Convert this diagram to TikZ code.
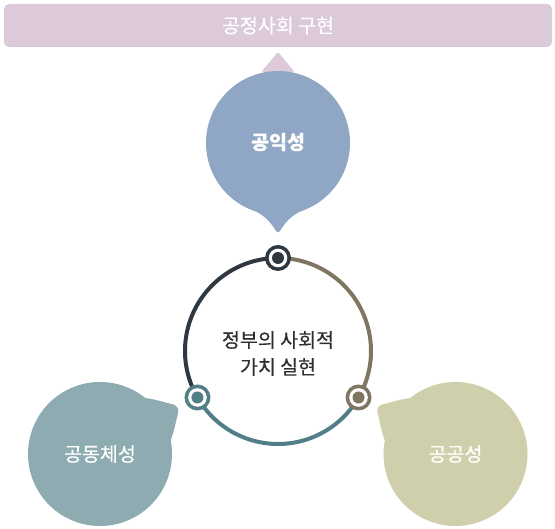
\documentclass[tikz,border=0pt]{standalone}
\usepackage{fontspec}
\setmainfont{Noto Sans CJK KR}[FakeBold=0.5]
\definecolor{bannerc}{HTML}{DCCADB}
\definecolor{bluec}{HTML}{8FA7C5}
\definecolor{tealc}{HTML}{8DABB0}
\definecolor{olivec}{HTML}{CFCFAB}
\definecolor{darkring}{HTML}{2F3841}
\definecolor{tealring}{HTML}{527E88}
\definecolor{khakiring}{HTML}{7E7660}
\definecolor{txtc}{HTML}{332E2E}
\newcommand{\bubtail}{(18:72) .. controls (72,15) and (78,8) .. (87,2.6) .. controls (89.8,1) and (89.8,-1) .. (87,-2.6) .. controls (78,-8) and (72,-15) .. (-18:72) -- cycle}
\newcommand{\sidetail}{(20:72) .. controls (75,19) and (82,11) .. (88,5) .. controls (91,2.5) and (91,-2.5) .. (88,-5) .. controls (82,-11) and (75,-19) .. (-20:72) -- cycle}
\begin{document}
\begin{tikzpicture}[x=1pt,y=1pt,
  lbl/.style={text=white,font=\fontsize{19.5}{22}\selectfont},
  ring/.style={line width=4pt},
  mtext/.style={text=txtc,align=center,font=\fontsize{19.5}{27}\selectfont}]
\useasboundingbox (0,0) rectangle (555,529);
% banner
\fill[bannerc, rounded corners=5pt] (4,482) rectangle (552,525);
\node[lbl] (title) at (278,503.5) {공정사회 구현};
\fill[bannerc, rounded corners=1.5pt] (278,477) -- (294.7,457) -- (261.3,457) -- cycle;
% top bubble
\begin{scope}[shift={(278,386)}, rotate=-90]
  \fill[bluec] (0,0) circle (72pt);
  \fill[bluec] \bubtail;
\end{scope}
\node[lbl, font=\fontsize{19.5}{22}\selectfont\bfseries] (pub) at (278,387) {공익성};
% left bubble
\begin{scope}[shift={(100,75)}, rotate=31]
  \fill[tealc] (0,0) circle (72pt);
  \fill[tealc] \sidetail;
\end{scope}
\node[lbl] (comm) at (100,75) {공동체성};
% right bubble
\begin{scope}[shift={(455.5,75)}, rotate=149]
  \fill[olivec] (0,0) circle (72pt);
  \fill[olivec] \sidetail;
\end{scope}
\node[lbl] (pubc) at (455.5,75) {공공성};
% ring
\coordinate (rc) at (278,178);
\draw[ring, darkring] ([shift={(90:93)}]rc) arc[start angle=90, end angle=210, radius=93pt];
\draw[ring, tealring] ([shift={(210:93)}]rc) arc[start angle=210, end angle=330, radius=93pt];
\draw[ring, khakiring] ([shift={(330:93)}]rc) arc[start angle=330, end angle=450, radius=93pt];
\coordinate (mt) at ([shift={(90:93)}]rc);
\coordinate (ml) at ([shift={(210:93)}]rc);
\coordinate (mr) at ([shift={(330:93)}]rc);
\foreach \p/\c in {mt/darkring, ml/tealring, mr/khakiring}{
  \fill[\c] (\p) circle (13pt);
  \fill[white] (\p) circle (9.3pt);
  \fill[\c] (\p) circle (6pt);
}
\node[mtext] (center) at (278,175.5) {정부의 사회적\\가치 실현};
\end{tikzpicture}
\end{document}
